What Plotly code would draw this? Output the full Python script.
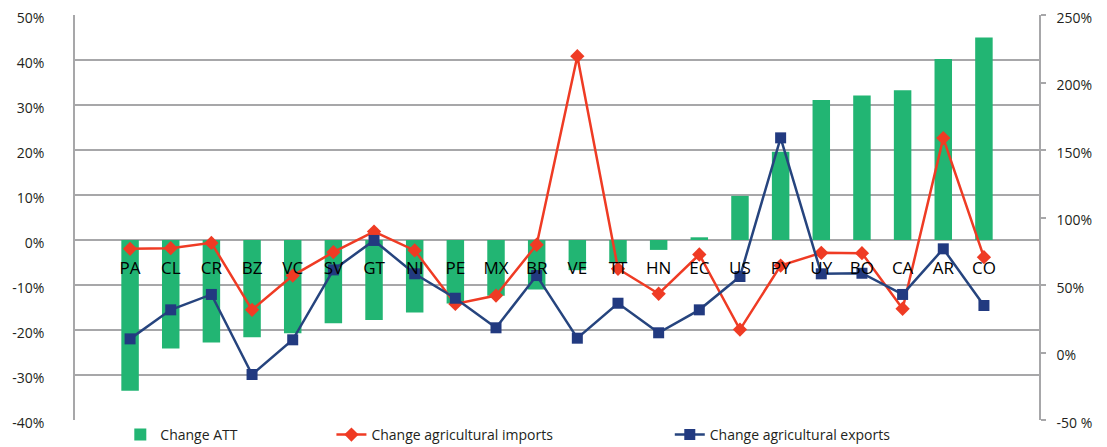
import plotly.graph_objects as go

categories = ["PA", "CL", "CR", "BZ", "VC", "SV", "GT", "NI", "PE", "MX", "BR",
              "VE", "TT", "HN", "EC", "US", "PY", "UY", "BO", "CA", "AR", "CO"]
change_att = [-33.5, -24.1, -22.8, -21.6, -20.7, -18.5, -17.8, -16.1, -14.1, -12.4, -11.0,
              -6.7, -5.0, -2.2, 0.6, 9.8, 19.6, 31.1, 32.1, 33.3, 40.2, 45.0]
change_imports = [76.8, 77.3, 81.2, 31.6, 57.0, 74.3, 89.6, 75.6, 36.0, 42.2, 79.8,
                  219.5, 62.0, 43.5, 72.6, 17.0, 64.4, 73.8, 73.6, 32.4, 158.8, 70.6]
change_exports = [10.1, 31.6, 43.0, -16.3, 9.4, 61.2, 83.0, 58.3, 40.2, 18.3, 57.0,
                  10.6, 36.5, 14.6, 31.6, 56.3, 159.0, 58.3, 58.7, 43.0, 76.8, 34.8]

left_ticks = [-40, -30, -20, -10, 0, 10, 20, 30, 40, 50]
left_labels = ["-40%", "-30%", "-20%", "-10%", "0%", "10%", "20%", "30%", "40%", "50%"]
right_ticks = [-50, 0, 50, 100, 150, 200, 250]
right_labels = ["-50 %", "0%", "50%", "100%", "150%", "200%", "250%"]

GREEN = "#22b573"
RED = "#ef3b24"
BLUE = "#26447e"
GRID = "#a7a7a9"
TXT = "#231f20"
FONT = "Open Sans"

fig = go.Figure()
fig.add_trace(go.Bar(x=categories, y=change_att, name="Change ATT",
                     marker=dict(color=GREEN, line=dict(width=0)),
                     yaxis="y", legend="legend"))
fig.add_trace(go.Scatter(x=categories, y=change_imports, name="Change agricultural imports",
                         mode="lines+markers", yaxis="y2",
                         line=dict(color=RED, width=2.5),
                         marker=dict(symbol="diamond", size=11, color=RED),
                         legend="legend2"))
fig.add_trace(go.Scatter(x=categories, y=change_exports, name="Change agricultural exports",
                         mode="lines+markers", yaxis="y2",
                         line=dict(color=BLUE, width=2.5),
                         marker=dict(symbol="square", size=11, color="#223a80"),
                         legend="legend3"))

leg_common = dict(orientation="h", yanchor="middle", y=-0.037, xanchor="left",
                  bgcolor="rgba(0,0,0,0)", font=dict(family=FONT, size=14, color=TXT))

# page body has an 8px margin, so the figure is drawn 8px smaller
fig.update_layout(
    width=1099, height=439,
    margin=dict(l=67, r=68, t=7, b=27, autoexpand=False),
    paper_bgcolor="white", plot_bgcolor="white",
    font=dict(family=FONT, color=TXT),
    bargap=0.57,
    showlegend=True,
    legend=dict(x=0.047, **leg_common),
    legend2=dict(x=0.266, **leg_common),
    legend3=dict(x=0.617, **leg_common),
    xaxis=dict(type="category", anchor="free", position=(0 - (-40)) / 90,
               showgrid=False, showline=False, zeroline=False,
               ticks="outside", ticklen=13, tickcolor="rgba(0,0,0,0)",
               tickfont=dict(family=FONT, size=17, color="black")),
    yaxis=dict(range=[-40, 50], tickvals=left_ticks, ticktext=left_labels,
               showgrid=True, gridcolor=GRID, gridwidth=1.5,
               zeroline=False, showline=True, linecolor=GRID, linewidth=1.5,
               ticks="", ticklabelstandoff=26, ticklabeloverflow="allow",
               ticklabelshift=3,
               tickfont=dict(family=FONT, size=14, color=TXT)),
    yaxis2=dict(range=[-50, 250], tickvals=right_ticks, ticktext=right_labels,
                overlaying="y", side="right", showgrid=False, zeroline=False,
                showline=True, linecolor=GRID, linewidth=1.5,
                ticks="outside", ticklen=5, tickcolor=GRID, tickwidth=1.5,
                ticklabelstandoff=8, ticklabeloverflow="allow",
                ticklabelshift=3,
                tickfont=dict(family=FONT, size=14, color=TXT)),
)

fig.write_html("out.html")
